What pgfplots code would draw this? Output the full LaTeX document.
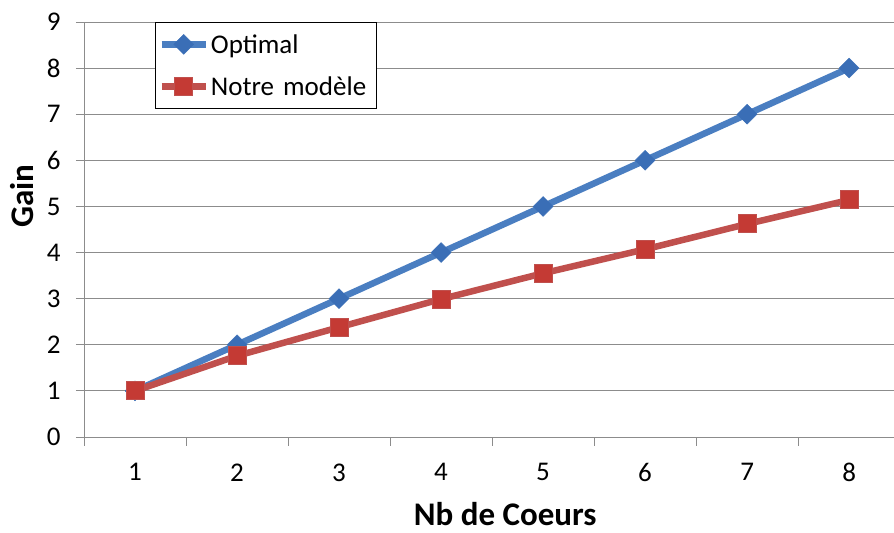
\documentclass[border=0pt]{standalone}
\usepackage{fontspec}
\setmainfont{Carlito}
\usepackage{pgfplots}
\pgfplotsset{compat=1.18}
\usetikzlibrary{plotmarks}
\definecolor{bline}{RGB}{74,126,193}
\definecolor{bmark}{RGB}{58,110,182}
\definecolor{rline}{RGB}{192,80,77}
\definecolor{rmark}{RGB}{196,58,52}
\definecolor{gridc}{RGB}{140,140,140}
\begin{document}
\begin{tikzpicture}
\begin{axis}[
  scale only axis,
  width=810pt, height=415pt,
  xmin=0.5, xmax=8.44,
  ymin=0, ymax=9,
  axis x line*=bottom, axis y line*=left,
  axis line style={gridc, line width=0.8pt, -},
  xtick={1,2,3,4,5,6,7,8},
  major x tick style={draw=none},
  minor xtick={0.5,1.5,2.5,3.5,4.5,5.5,6.5,7.5},
  minor x tick style={gridc, line width=0.8pt},
  ytick={0,1,...,9},
  ymajorgrids,
  grid style={gridc, line width=0.8pt},
  y tick style={gridc, line width=0.8pt},
  tick align=outside,
  major tick length=8pt, minor tick length=9pt,
  /pgf/number format/assume math mode=true,
  every tick label/.append style={font=\fontsize{27}{30}\selectfont, text=black},
  xticklabel style={yshift=-15pt},
  yticklabel style={xshift=-12pt},
  xlabel={\textbf{Nb de Coeurs}},
  ylabel={\textbf{Gain}},
  xlabel style={font=\fontsize{33}{38}\selectfont, at={(axis description cs:0.52,-0.185)}, anchor=center, inner sep=1pt},
  ylabel style={font=\fontsize{33}{38}\selectfont, at={(axis description cs:-0.077,0.58)}, anchor=center},
  legend style={at={(axis description cs:0.0877,1)}, anchor=north west,
    draw=black, line width=0.8pt, font=\fontsize{27}{30}\selectfont,
    inner xsep=3pt, inner ysep=4pt, row sep=6pt,
    text width=160pt, minimum height=36pt},
  legend cell align=left,
  legend image code/.code={\draw[mark repeat=2,mark phase=2,#1] plot coordinates {(0pt,0pt) (22pt,0pt) (44pt,0pt)};},
]
\coordinate (ll) at (rel axis cs:0,0);
\coordinate (ur) at (rel axis cs:1,1);
\addplot[bline, line width=6.5pt, mark=square*, mark size=7pt,
  mark options={bmark, fill=bmark, line width=0.5pt, rotate=45}]
  coordinates {(1,1) (2,2) (3,3) (4,4) (5,5) (6,6) (7,7) (8,8)};
\addlegendentry{Optimal}
\addplot[rline, line width=6.5pt, mark=square*, mark size=9pt,
  mark options={draw=rline, fill=rmark, line width=1pt}]
  coordinates {(1,1) (2,1.76) (3,2.38) (4,2.99) (5,3.55) (6,4.07) (7,4.62) (8,5.14)};
\addlegendentry{Notre modèle}
\end{axis}
\pgfresetboundingbox
\path ([shift={(-84pt,-96pt)}]ll) rectangle ([shift={(0pt,22pt)}]ur);
\end{tikzpicture}
\end{document}
